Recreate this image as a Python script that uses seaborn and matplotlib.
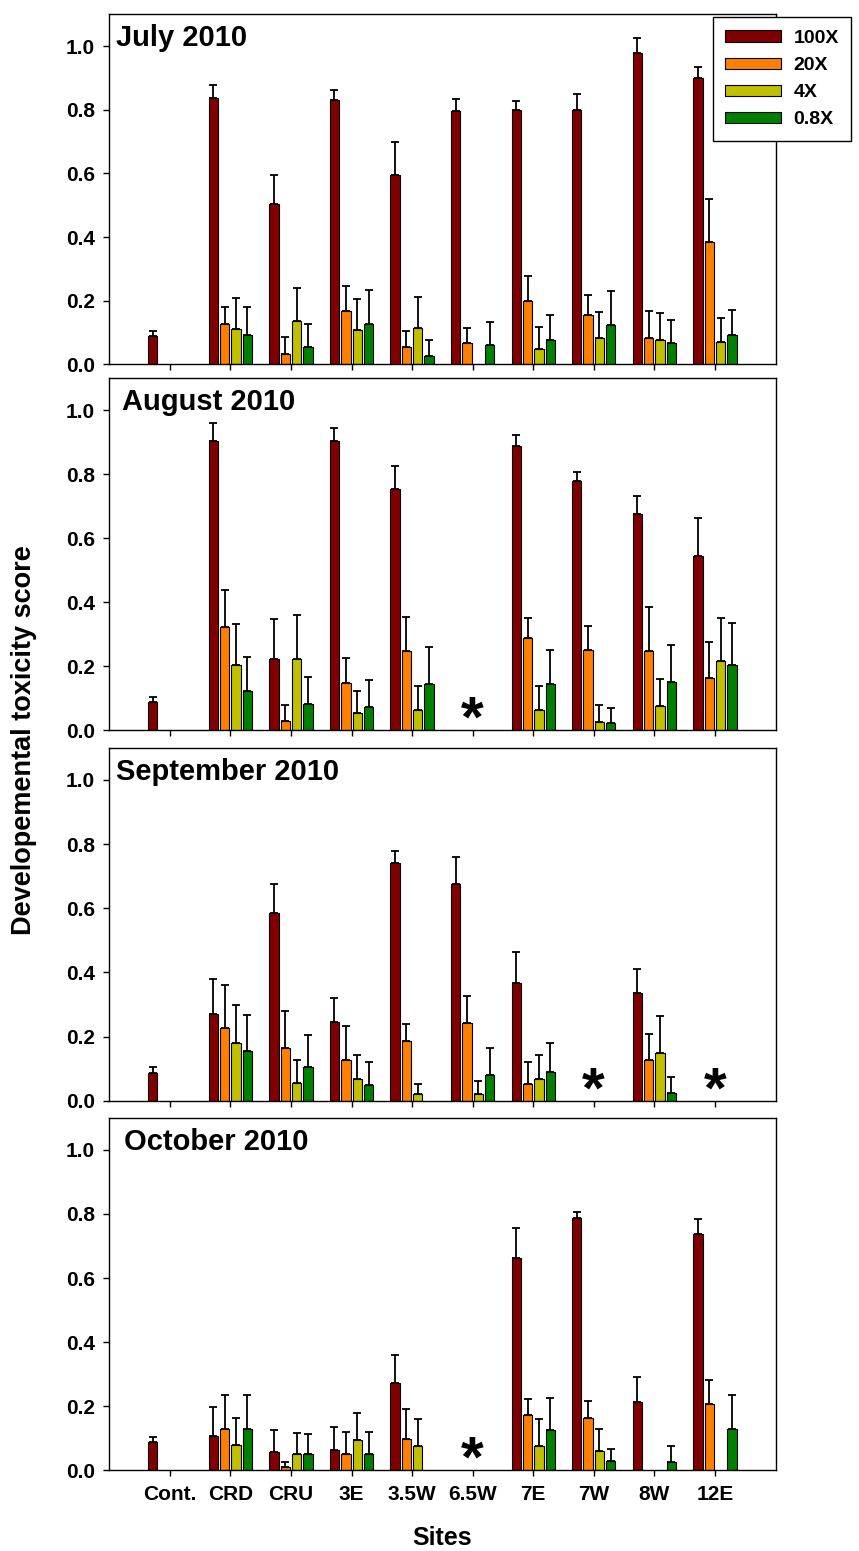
import pandas as pd
import matplotlib.pyplot as plt
import seaborn as sns

sns.set_theme(style="ticks")
plt.rcParams['font.family'] = ['Liberation Sans', 'DejaVu Sans']
plt.rcParams['font.weight'] = 'bold'
plt.rcParams['axes.labelweight'] = 'bold'
plt.rcParams['axes.edgecolor'] = 'black'
plt.rcParams['axes.linewidth'] = 1.0
plt.rcParams['text.color'] = 'black'
plt.rcParams['axes.labelcolor'] = 'black'
plt.rcParams['xtick.color'] = 'black'
plt.rcParams['ytick.color'] = 'black'
plt.rcParams['mathtext.fontset'] = 'custom'
plt.rcParams['mathtext.bf'] = 'Liberation Sans:bold'
plt.rcParams['mathtext.rm'] = 'Liberation Sans:bold'

# categories
sites = ["Cont.", "CRD", "CRU", "3E", "3.5W", "6.5W", "7E", "7W", "8W", "12E"]
concs = ["100X", "20X", "4X", "0.8X"]
colors = ["#800000", "#FF8000", "#C0C000", "#008000"]
N = None  # no bar for this site / dilution

# July 2010
jul_mean = {
    "100X": [0.089, 0.836, 0.505, 0.831, 0.595, 0.797, 0.800, 0.798, 0.977, 0.900],
    "20X":  [N, 0.126, 0.034, 0.167, 0.055, 0.066, 0.200, 0.154, 0.084, 0.384],
    "4X":   [N, 0.110, 0.135, 0.109, 0.115, N, 0.049, 0.082, 0.075, 0.070],
    "0.8X": [N, 0.092, 0.056, 0.128, 0.026, 0.061, 0.075, 0.124, 0.066, 0.091],
}
jul_err = {
    "100X": [0.017, 0.041, 0.091, 0.030, 0.103, 0.037, 0.027, 0.050, 0.048, 0.033],
    "20X":  [N, 0.055, 0.052, 0.080, 0.050, 0.049, 0.076, 0.065, 0.085, 0.134],
    "4X":   [N, 0.100, 0.106, 0.097, 0.096, N, 0.069, 0.084, 0.086, 0.077],
    "0.8X": [N, 0.089, 0.071, 0.106, 0.051, 0.073, 0.080, 0.105, 0.072, 0.081],
}

# August 2010
aug_mean = {
    "100X": [0.089, 0.903, 0.222, 0.904, 0.754, N, 0.887, 0.779, 0.675, 0.546],
    "20X":  [N, 0.324, 0.028, 0.149, 0.249, N, 0.287, 0.250, 0.247, 0.163],
    "4X":   [N, 0.203, 0.224, 0.053, 0.063, N, 0.065, 0.027, 0.075, 0.218],
    "0.8X": [N, 0.124, 0.081, 0.074, 0.146, N, 0.145, 0.024, 0.151, 0.205],
}
aug_err = {
    "100X": [0.016, 0.056, 0.126, 0.040, 0.073, N, 0.036, 0.027, 0.057, 0.116],
    "20X":  [N, 0.114, 0.052, 0.076, 0.106, N, 0.064, 0.077, 0.137, 0.114],
    "4X":   [N, 0.128, 0.137, 0.070, 0.074, N, 0.074, 0.051, 0.085, 0.132],
    "0.8X": [N, 0.105, 0.085, 0.083, 0.113, N, 0.105, 0.047, 0.116, 0.129],
}

# September 2010
sep_mean = {
    "100X": [0.088, 0.270, 0.586, 0.244, 0.740, 0.674, 0.366, N, 0.335, N],
    "20X":  [N, 0.226, 0.164, 0.128, 0.185, 0.241, 0.051, N, 0.128, N],
    "4X":   [N, 0.181, 0.055, 0.068, 0.020, 0.022, 0.067, N, 0.150, N],
    "0.8X": [N, 0.154, 0.106, 0.049, N, 0.081, 0.090, N, 0.025, N],
}
sep_err = {
    "100X": [0.017, 0.110, 0.090, 0.076, 0.038, 0.087, 0.098, N, 0.074, N],
    "20X":  [N, 0.134, 0.115, 0.106, 0.054, 0.084, 0.071, N, 0.081, N],
    "4X":   [N, 0.118, 0.071, 0.076, 0.033, 0.038, 0.076, N, 0.115, N],
    "0.8X": [N, 0.112, 0.098, 0.071, N, 0.083, 0.091, N, 0.050, N],
}

# October 2010
oct_mean = {
    "100X": [0.088, 0.106, 0.056, 0.065, 0.271, N, 0.663, 0.788, 0.212, 0.739],
    "20X":  [N, 0.129, 0.011, 0.050, 0.098, N, 0.172, 0.162, N, 0.206],
    "4X":   [N, 0.079, 0.050, 0.094, 0.075, N, 0.075, 0.059, N, N],
    "0.8X": [N, 0.128, 0.052, 0.051, N, N, 0.126, 0.028, 0.025, 0.129],
}
oct_err = {
    "100X": [0.017, 0.093, 0.070, 0.071, 0.088, N, 0.092, 0.019, 0.078, 0.045],
    "20X":  [N, 0.107, 0.014, 0.069, 0.093, N, 0.051, 0.054, N, 0.077],
    "4X":   [N, 0.084, 0.067, 0.085, 0.084, N, 0.084, 0.070, N, N],
    "0.8X": [N, 0.106, 0.062, 0.069, N, N, 0.100, 0.038, 0.050, 0.107],
}

titles = ["July 2010", "August 2010", "September 2010", "October 2010"]
stars = [[], ["6.5W"], ["7W", "12E"], ["6.5W"]]
means = [jul_mean, aug_mean, sep_mean, oct_mean]
errs = [jul_err, aug_err, sep_err, oct_err]

# layout (figure fractions)
bottoms = [0.7651, 0.5291, 0.2903, 0.0520]
heights = [0.2257, 0.2271, 0.2276, 0.2273]
title_x = [0.010, 0.0195, 0.010, 0.0225]


def to_long(m):
    rows = []
    for conc in concs:
        for site, v in zip(sites, m[conc]):
            if v is not None:
                rows.append((site, conc, v))
    return pd.DataFrame(rows, columns=["site", "conc", "score"])


fig = plt.figure(figsize=(8.59, 15.51), dpi=100)

for i in range(4):
    ax = fig.add_axes([0.1272, bottoms[i], 0.7756, heights[i]])
    df = to_long(means[i])
    sns.barplot(data=df, x="site", y="score", hue="conc", order=sites,
                hue_order=concs, palette=colors, saturation=1, width=0.75,
                gap=0.18, errorbar=None, edgecolor="black", linewidth=0.8,
                legend=(i == 0), ax=ax)

    # one-sided error bars on top of each bar
    for conc, bars in zip(concs, ax.containers):
        for bar in bars:
            xc = bar.get_x() + bar.get_width() / 2
            e = errs[i][conc][int(round(xc))]
            ax.errorbar(xc, bar.get_height(), yerr=[[0], [e]], fmt="none",
                        ecolor="black", elinewidth=1.3, capsize=3,
                        capthick=1.3, zorder=3)

    # sites with no sample that month
    for s in stars[i]:
        ax.text(sites.index(s), 0.03, r"$\mathbf{*}$", ha="center",
                va="center", fontsize=42)

    ax.text(title_x[i], 0.972, titles[i], transform=ax.transAxes,
            ha="left", va="top", fontsize=21, fontweight="bold")

    ax.set_xlim(-1, 10)
    ax.set_ylim(0, 1.1)
    ax.set_yticks([0.0, 0.2, 0.4, 0.6, 0.8, 1.0])
    ax.set_xlabel("")
    ax.set_ylabel("")
    ax.tick_params(axis="both", direction="out", length=4.5, width=1,
                   color="black", labelsize=15, pad=6)
    if i < 3:
        ax.tick_params(axis="x", labelbottom=False)
    for sp in ax.spines.values():
        sp.set_visible(True)
        sp.set_color("black")

    if i == 0:
        sns.move_legend(ax, loc="upper left",
                        bbox_to_anchor=(712.7 / 859, 1 - 17.3 / 1551),
                        bbox_transform=fig.transFigure, title=None,
                        frameon=True, fancybox=False, edgecolor="black",
                        framealpha=1, borderaxespad=0, borderpad=0.65,
                        handlelength=2.85, handleheight=0.5,
                        handletextpad=0.65, labelspacing=0.52,
                        prop={"weight": "bold", "size": 14})
        ax.get_legend().get_frame().set_linewidth(1.0)

fig.text(24 / 859, 1 - 740 / 1551, "Developemental toxicity score",
         rotation=90, ha="center", va="center", fontsize=19.5,
         fontweight="bold")
fig.text(441.7 / 859, 1 - 1538 / 1551, "Sites", ha="center", va="center",
         fontsize=18, fontweight="bold")

fig.savefig("out.png", dpi=100)
